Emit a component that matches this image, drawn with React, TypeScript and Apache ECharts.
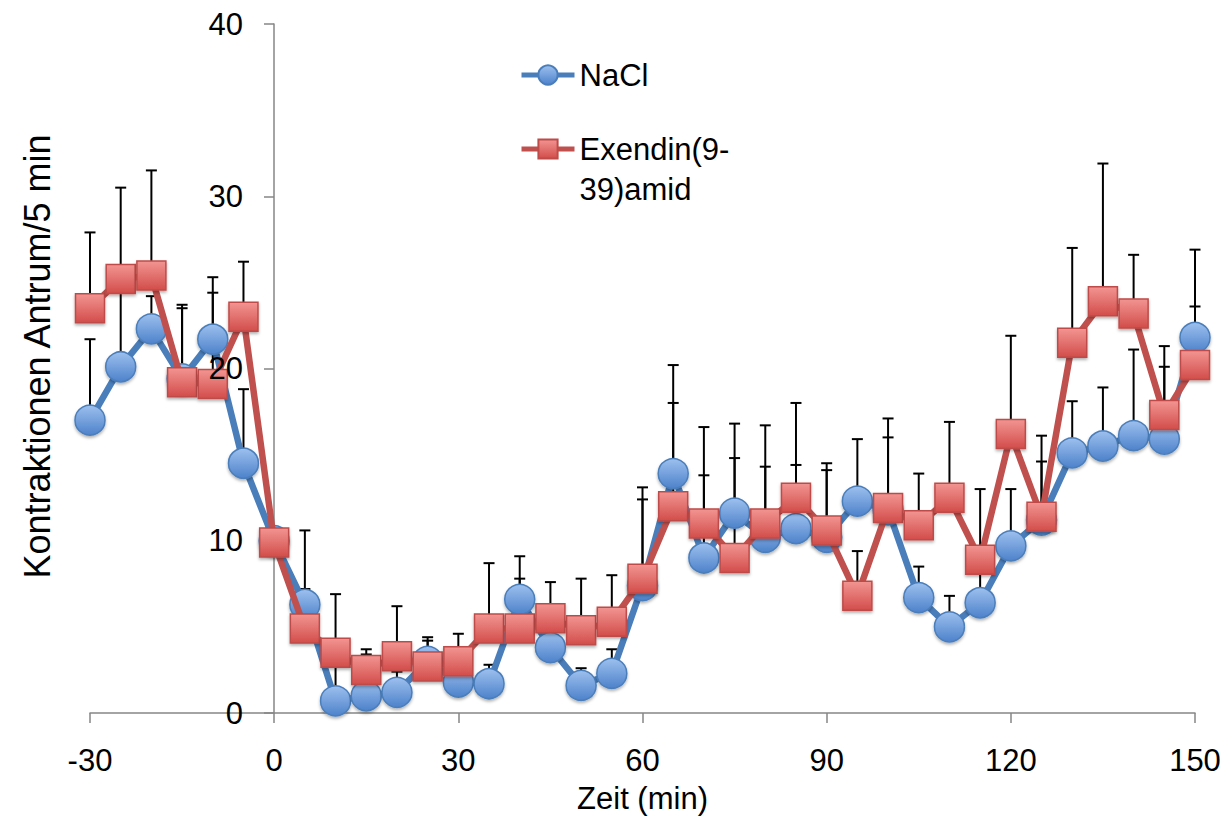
import React, { useEffect, useRef } from 'react';
import * as echarts from 'echarts';

const times = [-30, -25, -20, -15, -10, -5, 0, 5, 10, 15, 20, 25, 30, 35, 40, 45, 50, 55, 60, 65, 70, 75, 80, 85, 90, 95, 100, 105, 110, 115, 120, 125, 130, 135, 140, 145, 150];

const naclMean = [17.0, 20.1, 22.3, 19.4, 21.7, 14.5, 10.0, 6.3, 0.7, 1.0, 1.2, 3.0, 1.8, 1.7, 6.6, 3.8, 1.6, 2.3, 7.4, 13.9, 9.0, 11.6, 10.2, 10.7, 10.2, 12.3, 11.8, 6.7, 5.0, 6.4, 9.7, 11.2, 15.1, 15.5, 16.1, 15.9, 21.8];
const naclSE = [4.7, 4.9, 1.9, 4.1, 2.7, 4.3, 0.5, 4.3, 2.3, 2.4, 1.2, 1.2, 1.0, 1.1, 1.2, 1.2, 1.0, 1.4, 5.0, 4.1, 4.8, 3.2, 4.1, 3.7, 3.9, 3.6, 4.2, 1.8, 1.8, 2.1, 3.3, 3.4, 3.0, 3.4, 5.0, 4.2, 1.8];

const exMean = [23.5, 25.2, 25.4, 19.2, 19.1, 23.0, 9.9, 4.9, 3.5, 2.5, 3.3, 2.7, 3.0, 4.9, 4.9, 5.5, 4.8, 5.3, 7.8, 12.0, 11.0, 9.0, 11.0, 12.5, 10.6, 6.8, 11.9, 10.9, 12.5, 8.9, 16.2, 11.4, 21.5, 23.9, 23.2, 17.3, 20.2];
const exSE = [4.4, 5.3, 6.1, 4.5, 6.2, 3.2, 0.6, 2.3, 3.4, 1.2, 2.9, 1.7, 1.6, 3.8, 4.2, 2.1, 3.0, 2.7, 5.3, 8.2, 5.6, 7.8, 5.7, 5.5, 3.9, 2.6, 5.2, 3.0, 4.4, 4.1, 5.7, 4.7, 5.5, 8.0, 3.4, 4.0, 6.7];

const seriesNames = ['NaCl', 'Exendin(9-39)amid'];

const FONT = "'Liberation Sans', Arial, Helvetica, sans-serif";

export default function App() {
  const ref = useRef<HTMLDivElement>(null);

  useEffect(() => {
    const chart = echarts.init(ref.current as HTMLDivElement, null, { renderer: 'svg' });

    const errRender = (params: any, api: any) => {
      const x = api.value(0);
      const y = api.value(1);
      const t = api.value(2);
      const p0 = api.coord([x, y]);
      const p1 = api.coord([x, t]);
      const style = { stroke: '#000', lineWidth: 2 };
      return {
        type: 'group',
        children: [
          { type: 'line', shape: { x1: p0[0], y1: p0[1], x2: p1[0], y2: p1[1] }, style },
          { type: 'line', shape: { x1: p1[0] - 5.5, y1: p1[1], x2: p1[0] + 5.5, y2: p1[1] }, style },
        ],
      };
    };

    const blueGrad = new echarts.graphic.LinearGradient(0, 0, 0, 1, [
      { offset: 0, color: '#9dc0ee' },
      { offset: 1, color: '#4d82cb' },
    ]);
    const redGrad = new echarts.graphic.LinearGradient(0, 0, 0, 1, [
      { offset: 0, color: '#f29592' },
      { offset: 1, color: '#d24d4a' },
    ]);

    const yBase: any = {
      type: 'value',
      position: 'left',
      min: 0,
      max: 40,
      interval: 10,
      offset: -184,
      splitLine: { show: false },
    };

    const option: any = {
      animation: false,
      backgroundColor: '#fff',
      textStyle: { fontFamily: FONT },
      grid: { left: 90, right: 37, top: 24, bottom: 112, containLabel: false, outerBoundsMode: 'none' },
      legend: [
        {
          left: 519,
          top: 55,
          padding: 0,
          orient: 'vertical',
          itemWidth: 53,
          itemHeight: 24,
          selectedMode: false,
          data: [seriesNames[0]],
          lineStyle: { width: 5 },
          textStyle: { fontSize: 31, lineHeight: 40, color: '#000', fontFamily: FONT },
        },
        {
          left: 519,
          top: 89,
          padding: 0,
          orient: 'vertical',
          itemWidth: 53,
          itemHeight: 24,
          selectedMode: false,
          data: [seriesNames[1]],
          lineStyle: { width: 5 },
          formatter: () => ' \nExendin(9-\n39)amid',
          textStyle: { fontSize: 31, lineHeight: 40, color: '#000', fontFamily: FONT },
        },
      ],
      xAxis: {
        type: 'value',
        min: -30,
        max: 150,
        interval: 30,
        name: 'Zeit (min)',
        nameLocation: 'middle',
        nameGap: 70,
        nameTextStyle: { fontSize: 31, color: '#000', fontFamily: FONT },
        splitLine: { show: false },
        axisLine: { lineStyle: { color: '#868686', width: 1.5 } },
        axisTick: { length: 10, lineStyle: { color: '#868686', width: 1.5 } },
        axisLabel: { fontSize: 31, color: '#000', margin: 32, fontFamily: FONT },
      },
      yAxis: [
        {
          ...yBase,
          z: 0,
          name: 'Kontraktionen Antrum/5 min',
          nameLocation: 'middle',
          nameGap: 219,
          nameTextStyle: { fontSize: 36, color: '#000', fontFamily: FONT, padding: [0, 0, 0, 24] },
          axisLine: { show: true, onZero: false, lineStyle: { color: '#868686', width: 1.5 } },
          axisTick: { show: true, length: 10, lineStyle: { color: '#868686', width: 1.5 } },
          axisLabel: { show: false },
        },
        {
          ...yBase,
          z: 10,
          axisLine: { show: false, onZero: false },
          axisTick: { show: false },
          axisLabel: { show: true, fontSize: 31, color: '#000', margin: 31, fontFamily: FONT },
        },
      ],
      series: [
        {
          name: 'NaCl SE',
          type: 'custom',
          z: 1,
          renderItem: errRender,
          encode: { x: 0, y: [1, 2] },
          data: times.map((t, i) => [t, naclMean[i], naclMean[i] + naclSE[i]]),
        },
        {
          name: 'Exendin SE',
          type: 'custom',
          z: 1,
          renderItem: errRender,
          encode: { x: 0, y: [1, 2] },
          data: times.map((t, i) => [t, exMean[i], exMean[i] + exSE[i]]),
        },
        {
          name: seriesNames[0],
          type: 'line',
          z: 2,
          symbol: 'circle',
          symbolSize: 30,
          lineStyle: { color: '#4a7ebb', width: 6.5 },
          itemStyle: {
            color: blueGrad,
            borderColor: '#4a7ebb',
            borderWidth: 1.5,
            shadowBlur: 3,
            shadowOffsetY: 2,
            shadowColor: 'rgba(0,0,0,0.3)',
          },
          emphasis: { disabled: true },
          data: times.map((t, i) => [t, naclMean[i]]),
        },
        {
          name: seriesNames[1],
          type: 'line',
          z: 3,
          symbol: 'rect',
          symbolSize: 29,
          lineStyle: { color: '#c0504d', width: 6.5 },
          itemStyle: {
            color: redGrad,
            borderColor: '#be4b48',
            borderWidth: 1.5,
            shadowBlur: 3,
            shadowOffsetY: 2,
            shadowColor: 'rgba(0,0,0,0.3)',
          },
          emphasis: { disabled: true },
          data: times.map((t, i) => [t, exMean[i]]),
        },
      ],
    };

    chart.setOption(option);
    return () => chart.dispose();
  }, []);

  return (
    <div
      ref={ref}
      style={{ position: 'fixed', left: 0, top: 0, width: 1232, height: 825, background: '#fff' }}
    />
  );
}
